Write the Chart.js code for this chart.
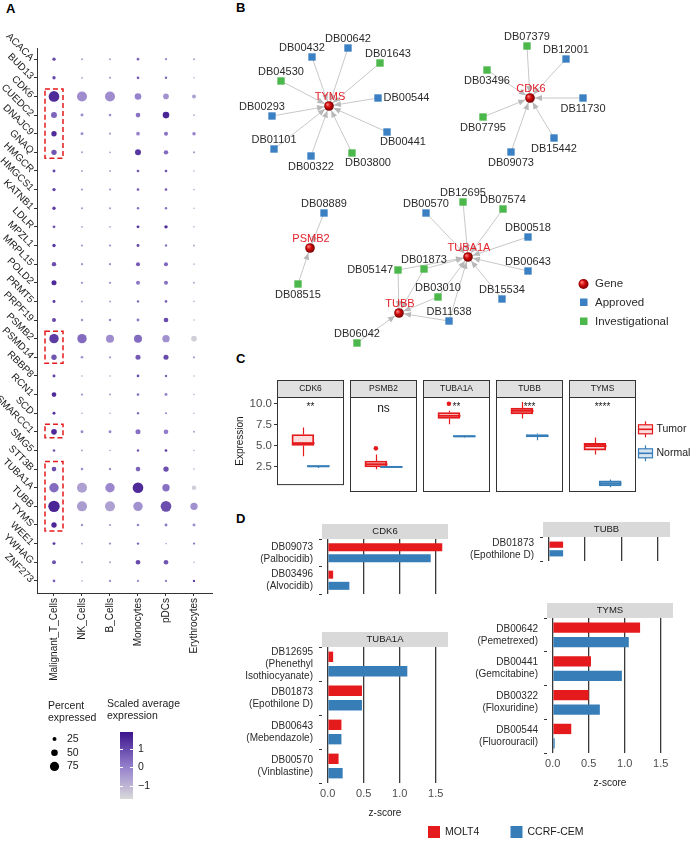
<!DOCTYPE html>
<html>
<head>
<meta charset="utf-8">
<script src="https://cdn.jsdelivr.net/npm/chart.js@4.4.1/dist/chart.umd.min.js"></script>
<style>
  body { margin: 0; background: #fff; }
  #fig { position: relative; width: 693px; height: 841px; overflow: hidden; }
  #fig canvas { position: absolute; }
  .tag { position: absolute; font: bold 13px "Liberation Sans", Arial, sans-serif; color: #000; line-height: 13px; }
</style>
</head>
<body>
<div id="fig">
  <div class="tag" style="left:6px;top:2px">A</div>
  <div class="tag" style="left:236px;top:1px">B</div>
  <div class="tag" style="left:236px;top:352px">C</div>
  <div class="tag" style="left:236px;top:512px">D</div>
</div>
<script>
// ---- Panel A: dot plot ----
const genes = ['ACACA', 'BUD13', 'CDK6', 'CUEDC2', 'DNAJC9', 'GNAQ', 'HMGCR', 'HMGCS1', 'KATNB1', 'LDLR',
  'MPZL1', 'MRPL15', 'POLD2', 'PRMT5', 'PRPF19', 'PSMB2', 'PSMD14', 'RBBP8', 'RCN1', 'SCD',
  'SMARCC1', 'SMG5', 'STT3B', 'TUBA1A', 'TUBB', 'TYMS', 'WEE1', 'YWHAG', 'ZNF273'];
const cellTypes = ['Malignant_T_Cells', 'NK_Cells', 'B_Cells', 'Monocytes', 'pDCs', 'Erythrocytes'];
// percent expressed, one row per gene, columns follow cellTypes
const pctExpressed = [
  [19, 6, 6, 12, 8, 6], [19, 4, 6, 12, 10, 2], [89, 83, 83, 50, 41, 25], [44, 15, 12, 31, 50, 4],
  [38, 15, 8, 22, 25, 20], [38, 6, 4, 44, 29, 8], [15, 4, 4, 12, 12, 2], [19, 6, 6, 12, 12, 2],
  [19, 6, 6, 10, 10, 2], [15, 4, 4, 15, 19, 2], [19, 6, 8, 15, 10, 4], [29, 8, 8, 25, 25, 2],
  [35, 8, 8, 25, 25, 4], [15, 4, 4, 10, 12, 2], [25, 10, 10, 15, 31, 2], [77, 77, 63, 63, 57, 41],
  [38, 12, 8, 35, 35, 8], [15, 2, 2, 12, 10, 2], [31, 8, 6, 12, 15, 2], [15, 2, 2, 10, 6, 2],
  [41, 15, 15, 35, 31, 6], [12, 4, 2, 10, 12, 2], [31, 12, 10, 31, 38, 2], [77, 83, 77, 89, 57, 31],
  [96, 83, 83, 77, 89, 57], [38, 10, 8, 12, 15, 15], [15, 4, 8, 10, 2, 8], [25, 6, 6, 31, 31, 2],
  [12, 2, 8, 8, 8, 10]
];
// scaled average expression
const avgExpression = [
  [1.0, -0.5, -0.5, 0.5, 0.0, -0.5], [1.0, -0.5, -0.3, 0.7, 0.5, -0.8], [1.5, -0.2, -0.2, 0.0, -0.3, -0.6],
  [0.5, -0.2, -0.2, 0.3, 1.6, -0.6], [1.5, -0.2, -0.6, 0.0, 0.3, 0.0], [0.8, -0.5, -0.6, 1.3, 0.4, -0.5],
  [1.0, -0.5, -0.5, 0.8, 0.9, -0.8], [1.1, -0.3, -0.3, 0.6, 0.6, -0.8], [1.2, -0.3, -0.3, 0.3, 0.3, -0.8],
  [0.7, -0.5, -0.6, 1.3, 1.5, -0.8], [1.3, -0.3, -0.2, 1.0, 0.2, -0.5], [0.9, -0.3, -0.2, 0.7, 0.5, -0.8],
  [1.5, -0.2, -0.2, 0.2, 0.3, -0.5], [1.3, -0.3, -0.3, 0.5, 0.6, -0.8], [1.0, -0.3, -0.1, 0.1, 1.0, -0.8],
  [1.2, 0.4, -0.2, 0.4, -0.3, -1.5], [0.8, -0.3, -0.4, 0.7, 1.0, -0.5], [1.1, -0.6, -0.6, 1.0, 0.5, -0.8],
  [1.5, -0.3, -0.5, 0.3, 0.0, -0.8], [1.4, -0.6, -0.6, 0.3, 0.0, -0.8], [1.5, -0.2, -0.1, 0.3, 0.1, -0.6],
  [0.7, -0.4, -0.6, 0.8, 1.3, -0.8], [0.9, -0.3, -0.3, 0.5, 0.9, -0.8], [0.4, -0.6, -0.1, 1.5, 0.3, -1.5],
  [1.6, -0.5, -0.6, -0.3, 0.9, -0.3], [1.6, -0.3, -0.4, 0.0, 0.1, -0.2], [1.2, -0.5, -0.2, 0.5, -0.6, 0.2],
  [0.8, -0.5, -0.5, 1.0, 0.8, -0.8], [0.6, -0.8, 0.0, 0.0, 0.2, 1.0]
];
const highlightRows = [[2, 5], [15, 16], [20, 20], [22, 25]];
const sizeBreaks = [25, 50, 75];
const colorBreaks = [1, 0, -1];

// ---- Panel B: drug-target network (layout coordinates) ----
const netGenes = ['TYMS', 'CDK6', 'PSMB2', 'TUBA1A', 'TUBB'];
const netGeneX = [329, 530, 310, 468, 399];
const netGeneY = [106, 98, 248, 257, 313];
const netDrugs = ['DB00642', 'DB00432', 'DB01643', 'DB04530', 'DB00544', 'DB00293', 'DB00441', 'DB01101', 'DB00322', 'DB03800',
  'DB07379', 'DB12001', 'DB03496', 'DB11730', 'DB07795', 'DB15442', 'DB09073',
  'DB08889', 'DB08515',
  'DB00570', 'DB12695', 'DB07574', 'DB00518', 'DB00643', 'DB15534', 'DB11638', 'DB03010', 'DB01873', 'DB05147', 'DB06042'];
const netDrugX = [348, 312, 380, 281, 378, 272, 387, 274, 311, 352,
  527, 566, 487, 583, 483, 554, 511,
  324, 298,
  426, 463, 503, 528, 528, 502, 449, 438, 424, 398, 357];
const netDrugY = [48, 57, 63, 81, 98, 116, 132, 149, 156, 153,
  46, 59, 70, 98, 117, 138, 152,
  213, 284,
  213, 202, 209, 237, 271, 299, 321, 297, 269, 270, 343];
const netDrugStatus = ['A', 'A', 'I', 'I', 'A', 'A', 'A', 'A', 'A', 'I',
  'I', 'A', 'I', 'A', 'I', 'A', 'A',
  'A', 'I',
  'A', 'I', 'I', 'A', 'A', 'A', 'A', 'I', 'I', 'I', 'I'];
const netLabelSide = ['a', 'al', 'ar', 'a', 'r', 'al', 'br', 'a', 'b', 'br',
  'a', 'a', 'b', 'b', 'b', 'b', 'b',
  'a', 'b',
  'a', 'a', 'a', 'a', 'a', 'a', 'a', 'a', 'a', 'l', 'a'];
// edges: [drug, target gene]
const netEdges = [
  ['DB00642', 'TYMS'], ['DB00432', 'TYMS'], ['DB01643', 'TYMS'], ['DB04530', 'TYMS'], ['DB00544', 'TYMS'],
  ['DB00293', 'TYMS'], ['DB00441', 'TYMS'], ['DB01101', 'TYMS'], ['DB00322', 'TYMS'], ['DB03800', 'TYMS'],
  ['DB07379', 'CDK6'], ['DB12001', 'CDK6'], ['DB03496', 'CDK6'], ['DB11730', 'CDK6'], ['DB07795', 'CDK6'],
  ['DB15442', 'CDK6'], ['DB09073', 'CDK6'],
  ['DB08889', 'PSMB2'], ['DB08515', 'PSMB2'],
  ['DB00570', 'TUBA1A'], ['DB12695', 'TUBA1A'], ['DB07574', 'TUBA1A'], ['DB00518', 'TUBA1A'], ['DB00643', 'TUBA1A'],
  ['DB15534', 'TUBA1A'], ['DB11638', 'TUBA1A'], ['DB03010', 'TUBA1A'], ['DB01873', 'TUBA1A'], ['DB05147', 'TUBA1A'],
  ['DB05147', 'TUBB'], ['DB01873', 'TUBB'], ['DB03010', 'TUBB'], ['DB11638', 'TUBB'], ['DB06042', 'TUBB']
];

// ---- Panel C: expression boxplots, [min, q1, median, q3, max] ----
const boxGenes = ['CDK6', 'PSMB2', 'TUBA1A', 'TUBB', 'TYMS'];
const tumorStats = [[3.7, 5.0, 5.27, 6.3, 7.13], [2.78, 3.04, 3.34, 3.7, 4.42], [7.77, 8.4, 8.7, 9.07, 9.25],
  [8.4, 8.92, 9.25, 9.55, 10.22], [4.42, 4.9, 5.35, 5.65, 6.3]];
const normalStats = [[2.3, 2.45, 2.52, 2.6, 2.62], [2.95, 2.98, 3.04, 3.1, 3.12], [6.3, 6.35, 6.43, 6.5, 6.55],
  [6.0, 6.35, 6.47, 6.62, 6.75], [0.8, 0.95, 1.22, 1.5, 1.65]];
const tumorOutliers = [[], [5.1], [10.03], [], []];
const sigLabels = ['**', 'ns', '**', '***', '****'];
const exprTicks = [2.5, 5.0, 7.5, 10.0];

// ---- Panel D: drug sensitivity z-scores ----
const cdk6Drugs = [['DB09073', '(Palbocidib)'], ['DB03496', '(Alvocidib)']];
const cdk6Molt4 = [1.59, 0.075];
const cdk6Ccrf = [1.43, 0.30];
const tubbDrugs = [['DB01873', '(Epothilone D)']];
const tubbMolt4 = [0.197];
const tubbCcrf = [0.197];
const tuba1aDrugs = [['DB12695', '(Phenethyl', 'Isothiocyanate)'], ['DB01873', '(Epothilone D)'],
  ['DB00643', '(Mebendazole)'], ['DB00570', '(Vinblastine)']];
const tuba1aMolt4 = [0.075, 0.475, 0.19, 0.15];
const tuba1aCcrf = [1.105, 0.475, 0.19, 0.207];
const tymsDrugs = [['DB00642', '(Pemetrexed)'], ['DB00441', '(Gemcitabine)'], ['DB00322', '(Floxuridine)'],
  ['DB00544', '(Fluorouracil)']];
const tymsMolt4 = [1.213, 0.531, 0.499, 0.257];
const tymsCcrf = [1.056, 0.96, 0.654, 0.027];
const zTicks = [0, 0.5, 1.0, 1.5];

// ---------------------------------------------------------------
const FONT = '"Liberation Sans", Arial, sans-serif';
Chart.defaults.font.family = FONT;
Chart.defaults.color = '#333';
const RED = '#e41a1c', BLUE = '#377eb8';
const base = { responsive: false, animation: false, events: [], devicePixelRatio: 1 };
const noLegend = { legend: { display: false }, tooltip: { enabled: false } };

function addCanvas(left, top, w, h) {
  const c = document.createElement('canvas');
  c.width = w; c.height = h;
  c.style.left = left + 'px'; c.style.top = top + 'px';
  c.style.width = w + 'px'; c.style.height = h + 'px';
  document.getElementById('fig').appendChild(c);
  return c.getContext('2d');
}

// colour scale for the dot plot
const colStops = [[-1.7, [217, 217, 217]], [0, [150, 130, 205]], [1.9, [60, 20, 140]]];
function exprColor(v) {
  v = Math.max(-1.7, Math.min(1.9, v));
  let i = 0;
  while (i < colStops.length - 2 && v > colStops[i + 1][0]) i++;
  const [a, ca] = colStops[i], [b, cb] = colStops[i + 1];
  const t = (v - a) / (b - a);
  const c = ca.map((x, k) => Math.round(x + (cb[k] - x) * t));
  return `rgb(${c[0]},${c[1]},${c[2]})`;
}
function dotRadius(p) { return 0.7 + 0.052 * p; }

// ---- Panel A chart ----
const dotPoints = [];
genes.forEach((g, gi) => cellTypes.forEach((c, ci) =>
  dotPoints.push({ x: ci, y: gi, pct: pctExpressed[gi][ci], expr: avgExpression[gi][ci] })));

const dotExtras = {
  id: 'dotExtras',
  afterDatasetsDraw(chart) {
    const { ctx, scales: { x, y } } = chart;
    ctx.save();
    ctx.strokeStyle = RED; ctx.lineWidth = 1.5; ctx.setLineDash([5, 3]);
    const cx = x.getPixelForValue(0);
    highlightRows.forEach(([r0, r1]) => {
      const t = y.getPixelForValue(r0) - 7.5, b = y.getPixelForValue(r1) + 6;
      ctx.strokeRect(cx - 9, t, 18, b - t);
    });
    ctx.restore();
  },
  afterDraw(chart) {
    const ctx = chart.ctx;
    ctx.save();
    ctx.fillStyle = '#1a1a1a';
    ctx.font = '10.5px ' + FONT;
    ctx.textBaseline = 'middle';
    ctx.fillText('Percent', 48, 706); ctx.fillText('expressed', 48, 718);
    ctx.fillText('Scaled average', 107, 704); ctx.fillText('expression', 107, 716);
    // size key
    sizeBreaks.forEach((p, i) => {
      const yy = 739 + i * 13.7;
      ctx.fillStyle = '#000';
      ctx.beginPath(); ctx.arc(54.5, yy, dotRadius(p), 0, Math.PI * 2); ctx.fill();
      ctx.fillStyle = '#1a1a1a';
      ctx.fillText(String(p), 67, yy);
    });
    // colour bar
    const top = 732, bot = 799, lo = -1.7, hi = 1.9;
    const g = ctx.createLinearGradient(0, bot, 0, top);
    for (let k = 0; k <= 20; k++) g.addColorStop(k / 20, exprColor(lo + (hi - lo) * k / 20));
    ctx.fillStyle = g; ctx.fillRect(120, top, 13, bot - top);
    ctx.strokeStyle = '#fff'; ctx.lineWidth = 1;
    colorBreaks.forEach(v => {
      const yy = Math.round(bot - (v - lo) / (hi - lo) * (bot - top)) + 0.5;
      ctx.beginPath(); ctx.moveTo(120, yy); ctx.lineTo(123, yy); ctx.moveTo(130, yy); ctx.lineTo(133, yy); ctx.stroke();
      ctx.fillStyle = '#1a1a1a';
      ctx.fillText(v < 0 ? '\u2212' + Math.abs(v) : String(v), 138, yy);
    });
    ctx.restore();
  }
};

new Chart(addCanvas(0, 0, 225, 841), {
  type: 'scatter',
  data: { datasets: [{
    data: dotPoints,
    pointRadius: c => dotRadius(c.raw.pct),
    backgroundColor: c => exprColor(c.raw.expr),
    borderWidth: 0
  }] },
  options: { ...base,
    layout: { autoPadding: false, padding: { top: 48, left: 0, right: 13, bottom: 148 } },
    plugins: noLegend,
    scales: {
      x: { type: 'linear', min: -0.607, max: 5.643,
        afterBuildTicks: s => { s.ticks = cellTypes.map((c, i) => ({ value: i })); },
        afterFit: s => { s.height = 100; },
        ticks: { callback: v => cellTypes[v], autoSkip: false, minRotation: 90, maxRotation: 90,
          font: { size: 10 }, color: '#1a1a1a', padding: 2 },
        grid: { drawOnChartArea: false, tickLength: 3, color: '#333' },
        border: { color: '#333', width: 1 } },
      y: { type: 'linear', reverse: true, min: -0.6, max: 28.65,
        afterBuildTicks: s => { s.ticks = genes.map((g, i) => ({ value: i })); },
        afterFit: s => { s.width = 37; },
        ticks: { callback: v => genes[v], autoSkip: false, minRotation: -45, maxRotation: 50,
          font: { size: 10 }, color: '#1a1a1a', padding: 2 },
        grid: { drawOnChartArea: false, tickLength: 3, color: '#333' },
        border: { color: '#333', width: 1 } }
    }
  },
  plugins: [dotExtras]
});

// ---- Panel B chart ----
const drugIndex = Object.fromEntries(netDrugs.map((d, i) => [d, i]));
const geneIndex = Object.fromEntries(netGenes.map((g, i) => [g, i]));
const statusColor = { A: '#3b80c3', I: '#4cb74a' };
function sphere(ctx, px, py, r) {
  const g = ctx.createRadialGradient(px - r * 0.35, py - r * 0.35, 0.3, px, py, r);
  g.addColorStop(0, '#ff8080'); g.addColorStop(0.45, '#d10a0a'); g.addColorStop(1, '#6e0000');
  return g;
}
const labelPos = { a: [0, -9.5, 'center'], al: [-10, -9.5, 'center'], ar: [8, -9.5, 'center'],
  b: [0, 10.5, 'center'], br: [16, 10, 'center'], r: [5.5, 0, 'left'], l: [-5, 0, 'right'] };

const netExtras = {
  id: 'netExtras',
  afterDatasetsDraw(chart) {
    const { ctx, scales: { x, y } } = chart;
    ctx.save();
    // arrow heads at the target genes
    ctx.fillStyle = '#b8b8b8';
    netEdges.forEach(([d, g]) => {
      const di = drugIndex[d], gi = geneIndex[g];
      const x0 = x.getPixelForValue(netDrugX[di]), y0 = y.getPixelForValue(netDrugY[di]);
      const x1 = x.getPixelForValue(netGeneX[gi]), y1 = y.getPixelForValue(netGeneY[gi]);
      const len = Math.hypot(x1 - x0, y1 - y0), ux = (x1 - x0) / len, uy = (y1 - y0) / len;
      const tx = x1 - ux * 5, ty = y1 - uy * 5, bx = tx - ux * 7, by = ty - uy * 7;
      ctx.beginPath();
      ctx.moveTo(tx, ty); ctx.lineTo(bx - uy * 3, by + ux * 3); ctx.lineTo(bx + uy * 3, by - ux * 3);
      ctx.closePath(); ctx.fill();
    });
    // drug labels
    ctx.font = '11px ' + FONT; ctx.fillStyle = '#2b2b2b'; ctx.textBaseline = 'middle';
    netDrugs.forEach((d, i) => {
      const [dx, dy, al] = labelPos[netLabelSide[i]];
      ctx.textAlign = al;
      ctx.fillText(d, x.getPixelForValue(netDrugX[i]) + dx, y.getPixelForValue(netDrugY[i]) + dy);
    });
    // gene labels
    ctx.fillStyle = '#e3202a'; ctx.textAlign = 'center';
    netGenes.forEach((g, i) => ctx.fillText(g, x.getPixelForValue(netGeneX[i]) + 1, y.getPixelForValue(netGeneY[i]) - 9.5));
    // legend
    const lx = 583.5 - 225;
    ctx.fillStyle = sphere(ctx, lx, 284, 5.5);
    ctx.beginPath(); ctx.arc(lx, 284, 5, 0, Math.PI * 2); ctx.fill();
    ctx.fillStyle = statusColor.A; ctx.fillRect(lx - 3.5, 298.5, 7.5, 7.5);
    ctx.fillStyle = statusColor.I; ctx.fillRect(lx - 3.5, 317.5, 7.5, 7.5);
    ctx.fillStyle = '#2b2b2b'; ctx.textAlign = 'left'; ctx.font = '11.5px ' + FONT;
    ctx.fillText('Gene', 595 - 225, 284); ctx.fillText('Approved', 595 - 225, 302.5); ctx.fillText('Investigational', 595 - 225, 321.5);
    ctx.restore();
  }
};

const edgeSets = netEdges.map(([d, g]) => ({
  type: 'line',
  data: [{ x: netDrugX[drugIndex[d]], y: netDrugY[drugIndex[d]] }, { x: netGeneX[geneIndex[g]], y: netGeneY[geneIndex[g]] }],
  borderColor: '#c8c8c8', borderWidth: 1, pointRadius: 0, order: 3
}));
new Chart(addCanvas(225, 0, 468, 355), {
  type: 'scatter',
  data: { datasets: [
    { data: netGenes.map((g, i) => ({ x: netGeneX[i], y: netGeneY[i] })), order: 1, pointRadius: 4.8, borderWidth: 0,
      backgroundColor: c => {
        const ch = c.chart;
        if (!ch.chartArea || !c.raw) return '#c00';
        return sphere(ch.ctx, ch.scales.x.getPixelForValue(c.raw.x), ch.scales.y.getPixelForValue(c.raw.y), 5);
      } },
    { data: netDrugs.map((d, i) => ({ x: netDrugX[i], y: netDrugY[i] })), order: 2, pointStyle: 'rect', pointRadius: 5.2,
      borderWidth: 0, backgroundColor: netDrugStatus.map(s => statusColor[s]) },
    ...edgeSets
  ] },
  options: { ...base,
    layout: { autoPadding: false, padding: 0 },
    plugins: noLegend,
    scales: {
      x: { type: 'linear', min: 225, max: 693, display: false },
      y: { type: 'linear', min: 0, max: 355, reverse: true, display: false }
    }
  },
  plugins: [netExtras]
});

// ---- Panel C charts ----
const facetLeft = [277, 350, 423, 496, 569];
const facetW = 67, cTop = 376, cBottom = 492;

function boxKey(ctx, cx, cy, col, fill) {
  ctx.strokeStyle = col; ctx.lineWidth = 1.2;
  ctx.beginPath(); ctx.moveTo(cx, cy - 8); ctx.lineTo(cx, cy + 8); ctx.stroke();
  ctx.fillStyle = '#fff'; ctx.fillRect(cx - 7, cy - 4.5, 14, 9);
  ctx.fillStyle = fill; ctx.fillRect(cx - 7, cy - 4.5, 14, 9);
  ctx.strokeRect(cx - 7, cy - 4.5, 14, 9);
  ctx.lineWidth = 1.6; ctx.beginPath(); ctx.moveTo(cx - 7, cy); ctx.lineTo(cx + 7, cy); ctx.stroke();
}

function facetPlugin(i) {
  return {
    id: 'facet' + i,
    afterDatasetsDraw(chart) {
      const { ctx, scales: { x, y }, chartArea: a } = chart;
      ctx.save();
      [[tumorStats[i], 1, RED], [normalStats[i], 2, BLUE]].forEach(([s, pos, col]) => {
        const cx = Math.round(x.getPixelForValue(pos)) + 0.5;
        ctx.strokeStyle = col; ctx.lineWidth = 1.2;
        ctx.beginPath();
        ctx.moveTo(cx, y.getPixelForValue(s[0])); ctx.lineTo(cx, y.getPixelForValue(s[1]));
        ctx.moveTo(cx, y.getPixelForValue(s[3])); ctx.lineTo(cx, y.getPixelForValue(s[4]));
        ctx.stroke();
        const ym = y.getPixelForValue(s[2]);
        ctx.lineWidth = 2; ctx.beginPath(); ctx.moveTo(cx - 11, ym); ctx.lineTo(cx + 11, ym); ctx.stroke();
      });
      // significance label
      ctx.fillStyle = '#1a1a1a'; ctx.textAlign = 'center'; ctx.textBaseline = 'middle';
      ctx.font = (sigLabels[i] === 'ns' ? '12px ' : '10px ') + FONT;
      ctx.fillText(sigLabels[i], (a.left + a.right) / 2, y.getPixelForValue(sigLabels[i] === 'ns' ? 9.45 : 9.6));
      // panel border and strip
      ctx.strokeStyle = '#333'; ctx.lineWidth = 1;
      ctx.strokeRect(a.left + 0.5, a.top + 0.5, a.width - 1, a.height - 1);
      ctx.fillStyle = '#e0e0e0';
      ctx.fillRect(a.left + 0.5, a.top - 16.5, a.width - 1, 17);
      ctx.strokeRect(a.left + 0.5, a.top - 16.5, a.width - 1, 17);
      ctx.fillStyle = '#1a1a1a'; ctx.font = '8.5px ' + FONT;
      ctx.fillText(boxGenes[i], (a.left + a.right) / 2, a.top - 8);
      if (i === boxGenes.length - 1) {
        const kx = a.right + 9.5;
        boxKey(ctx, kx, 429.3 - cTop, RED, 'rgba(228,26,28,0.15)');
        boxKey(ctx, kx, 453.3 - cTop, BLUE, 'rgba(55,126,184,0.2)');
        ctx.fillStyle = '#1a1a1a'; ctx.font = '10.5px ' + FONT; ctx.textAlign = 'left';
        ctx.fillText('Tumor', kx + 11, 429.3 - cTop);
        ctx.fillText('Normal', kx + 11, 453.3 - cTop);
      }
      ctx.restore();
    }
  };
}

boxGenes.forEach((g, i) => {
  const first = i === 0, last = i === boxGenes.length - 1;
  const left = first ? 226 : facetLeft[i] - 2;
  const right = last ? 693 : facetLeft[i] + facetW + 2;
  const w = right - left;
  const padLeft = first ? 0 : 2;
  const padRight = w - (facetLeft[i] - left) - facetW;
  new Chart(addCanvas(left, cTop, w, cBottom - cTop + 2), {
    type: 'bar',
    data: { datasets: [
      { label: 'Tumor', data: [{ x: 1, y: [tumorStats[i][1], tumorStats[i][3]] }], grouped: false,
        backgroundColor: 'rgba(228,26,28,0.15)', borderColor: RED, borderWidth: 1.2, borderSkipped: false, barThickness: 22 },
      { label: 'Normal', data: [{ x: 2, y: [normalStats[i][1], normalStats[i][3]] }], grouped: false,
        backgroundColor: 'rgba(55,126,184,0.2)', borderColor: BLUE, borderWidth: 1.2, borderSkipped: false, barThickness: 22 },
      { type: 'scatter', data: tumorOutliers[i].map(v => ({ x: 1, y: v })), pointRadius: 2.3,
        backgroundColor: RED, borderWidth: 0 }
    ] },
    options: { ...base,
      layout: { autoPadding: false, padding: { top: 21, left: padLeft, right: padRight, bottom: 2 } },
      plugins: noLegend,
      scales: {
        x: { type: 'linear', min: 0.4, max: 2.6, display: false, afterFit: s => { s.height = 0; } },
        y: { type: 'linear', min: 0.27, max: 10.78, display: first,
          afterBuildTicks: s => { s.ticks = exprTicks.map(v => ({ value: v })); },
          afterFit: s => { s.width = first ? facetLeft[0] - 226 : 0; },
          ticks: { callback: v => v.toFixed(1), font: { size: 11.5 }, color: '#4d4d4d', padding: 2 },
          grid: { drawOnChartArea: false, tickLength: 3, color: '#333' },
          border: { display: false },
          title: { display: true, text: 'Expression', font: { size: 10 }, color: '#1a1a1a', padding: { top: 8, bottom: 0 } } }
      }
    },
    plugins: [facetPlugin(i)]
  });
});

// ---- Panel D charts ----
function stripPlugin(name) {
  return {
    id: 'strip',
    afterDraw(chart) {
      const { ctx, chartArea: a } = chart;
      ctx.save();
      ctx.fillStyle = '#d9d9d9';
      ctx.fillRect(a.left, a.top - 15, a.width, 15);
      ctx.fillStyle = '#1a1a1a'; ctx.font = '9.5px ' + FONT;
      ctx.textAlign = 'center'; ctx.textBaseline = 'middle';
      ctx.fillText(name, (a.left + a.right) / 2, a.top - 7.5);
      ctx.restore();
    }
  };
}

function zChart(left, top, areaRight, areaLeft, areaTop, areaBottom, withAxis, name, drugs, molt, ccrf) {
  const axisH = withAxis ? 40 : 0;
  const h = areaBottom - top + (withAxis ? axisH : 2);
  const w = areaRight - left + 2;
  const catPct = 28.8 * drugs.length / (areaBottom - areaTop);
  return new Chart(addCanvas(left, top, w, h), {
    type: 'bar',
    data: { labels: drugs, datasets: [
      { label: 'MOLT4', data: molt, backgroundColor: RED, categoryPercentage: catPct, barPercentage: 0.72 },
      { label: 'CCRF-CEM', data: ccrf, backgroundColor: BLUE, categoryPercentage: catPct, barPercentage: 0.72 }
    ] },
    options: { ...base, indexAxis: 'y',
      layout: { autoPadding: false, padding: { top: areaTop - top, left: 0, right: 2, bottom: withAxis ? 0 : 2 } },
      plugins: noLegend,
      scales: {
        x: { type: 'linear', min: -0.08, max: 1.67,
          afterBuildTicks: s => { s.ticks = zTicks.map(v => ({ value: v })); },
          afterFit: s => { s.height = axisH; },
          ticks: { display: withAxis, callback: v => v.toFixed(1), font: { size: 11 }, color: '#4d4d4d', padding: 4 },
          grid: { color: '#3a3a3a', lineWidth: 1.3, drawTicks: false },
          border: { display: false },
          title: { display: withAxis, text: 'z-score', font: { size: 10 }, color: '#1a1a1a', padding: { top: 0, bottom: 4 } } },
        y: { afterFit: s => { s.width = areaLeft - left; },
          ticks: { font: { size: 10 }, color: '#2b2b2b', padding: 6, autoSkip: false },
          grid: { drawOnChartArea: false, tickLength: 3, color: '#333' },
          border: { display: false } }
      }
    },
    plugins: [stripPlugin(name)]
  });
}

zChart(226, 520, 448, 322, 539, 610, false, 'CDK6', cdk6Drugs, cdk6Molt4, cdk6Ccrf);
zChart(460, 518, 670, 543, 537, 577, false, 'TUBB', tubbDrugs, tubbMolt4, tubbCcrf);
zChart(226, 628, 448, 322, 647, 783, true, 'TUBA1A', tuba1aDrugs, tuba1aMolt4, tuba1aCcrf);
zChart(460, 599, 673, 547, 618, 753, true, 'TYMS', tymsDrugs, tymsMolt4, tymsCcrf);

// legend for panel D
const keyX = [28, 110.5];
new Chart(addCanvas(400, 820, 200, 21), {
  type: 'bar',
  data: { labels: [], datasets: [
    { label: 'MOLT4', data: [], backgroundColor: RED },
    { label: 'CCRF-CEM', data: [], backgroundColor: BLUE }
  ] },
  options: { ...base, plugins: noLegend, scales: { x: { display: false }, y: { display: false } } },
  plugins: [{
    id: 'zKey',
    afterDraw(chart) {
      const ctx = chart.ctx;
      ctx.save();
      ctx.font = '10.5px ' + FONT; ctx.textBaseline = 'middle';
      chart.data.datasets.forEach((ds, i) => {
        ctx.fillStyle = ds.backgroundColor;
        ctx.fillRect(keyX[i], 6, 12, 12);
        ctx.fillStyle = '#1a1a1a';
        ctx.fillText(ds.label, keyX[i] + 17, 12.5);
      });
      ctx.restore();
    }
  }]
});
</script>
</body>
</html>
